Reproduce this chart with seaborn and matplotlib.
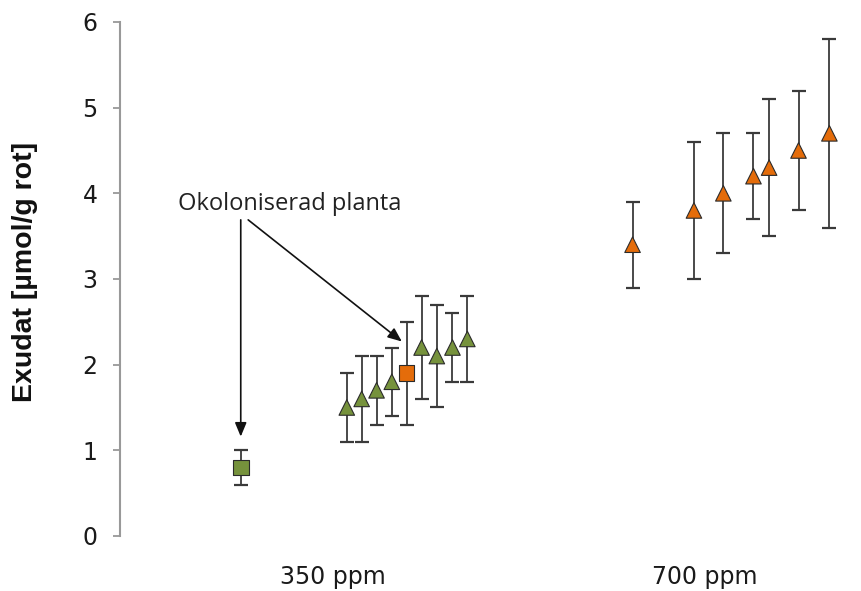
import numpy as np
import pandas as pd
import seaborn as sns
import matplotlib.pyplot as plt

# values; x: 350 ppm = 0, 700 ppm = 1
x_pos = [-0.248, 0.037, 0.077, 0.117, 0.158, 0.198, 0.238, 0.279, 0.321, 0.361,
         0.805, 0.970, 1.049, 1.130, 1.172, 1.251, 1.334]
exudat = [0.8, 1.5, 1.6, 1.7, 1.8, 1.9, 2.2, 2.1, 2.2, 2.3,
          3.4, 3.8, 4.0, 4.2, 4.3, 4.5, 4.7]
err = [0.2, 0.4, 0.5, 0.4, 0.4, 0.6, 0.6, 0.6, 0.4, 0.5,
       0.5, 0.8, 0.7, 0.5, 0.8, 0.7, 1.1]
farg = ['gron'] * 5 + ['orange'] + ['gron'] * 4 + ['orange'] * 7
form = ['kvadrat'] + ['triangel'] * 4 + ['kvadrat'] + ['triangel'] * 11
group_ticks = [0, 1]
group_labels = ['350 ppm', '700 ppm']
y_ticks = [0, 1, 2, 3, 4, 5, 6]

df = pd.DataFrame({'x': x_pos, 'y': exudat, 'err': err, 'farg': farg, 'form': form})

sns.set_style('white')
plt.rcParams['font.family'] = ['DejaVu Sans']

fig = plt.figure(figsize=(8.62, 5.91), dpi=100)
ax = fig.add_axes([0.139, 0.0931, 0.859, 0.8697])

ax.errorbar(df['x'], df['y'], yerr=df['err'], fmt='none', ecolor='#3a3a3a',
            elinewidth=1.3, capsize=5, capthick=1.6, zorder=2)
sns.scatterplot(data=df, x='x', y='y', hue='farg', style='form',
                palette={'gron': '#76923c', 'orange': '#e46c0a'},
                markers={'triangel': '^', 'kvadrat': 's'},
                s=125, edgecolor='#2b2b2b', linewidth=0.8, legend=False,
                zorder=3, ax=ax)

ax.set_xlim(-0.573, 1.417)
ax.set_ylim(0, 6)
ax.set_xticks(group_ticks)
ax.set_xticklabels(group_labels)
ax.set_yticks(y_ticks)
ax.set_xlabel('')
ax.set_ylabel('Exudat [µmol/g rot]', fontsize=20.5, fontweight='bold',
              family=['Liberation Sans', 'DejaVu Sans'], color='#111111',
              va='center')
ax.yaxis.set_label_coords(-0.128, 0.513)

for s in ['top', 'right', 'bottom']:
    ax.spines[s].set_visible(False)
ax.spines['left'].set_color('#999999')
ax.spines['left'].set_linewidth(1.5)
ax.tick_params(axis='y', length=5, width=1.3, color='#999999', pad=11,
               labelsize=17, labelcolor='#1a1a1a', left=True)
ax.tick_params(axis='x', length=0, pad=21, labelsize=17, labelcolor='#1a1a1a')

# annotation for the non-colonised plants
ax.text(-0.116, 3.88, 'Okoloniserad planta', ha='center', va='center',
        fontsize=17, family=['Open Sans', 'DejaVu Sans'], color='#222222')
pil = dict(arrowstyle='-|>,head_length=0.6,head_width=0.25', color='#111111',
           lw=1.2, shrinkA=0, shrinkB=0, mutation_scale=14)
ax.annotate('', xy=(-0.248, 1.16), xytext=(-0.248, 3.69), arrowprops=pil)
ax.annotate('', xy=(0.185, 2.27), xytext=(-0.228, 3.69), arrowprops=pil)

fig.savefig('out.png', dpi=100)
